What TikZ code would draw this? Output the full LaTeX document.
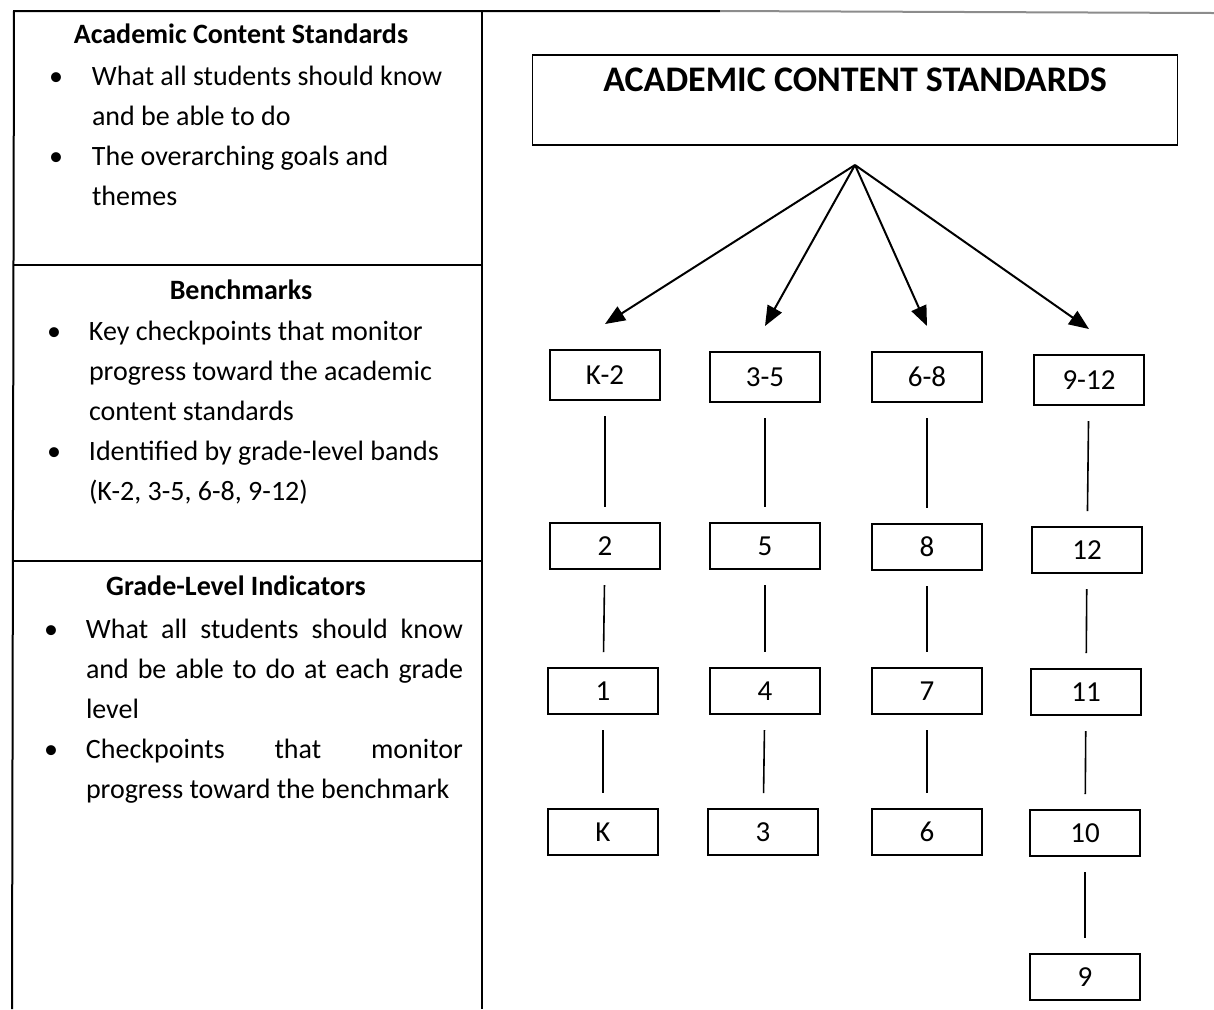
\documentclass[tikz,border=0pt]{standalone}
\usepackage{fontspec}
\setmainfont{Carlito}
\usepackage{array}
\usetikzlibrary{arrows.meta}
\usetikzlibrary{positioning}

\begin{document}
\begin{tikzpicture}[x=0.5pt, y=-0.5pt, outer sep=0pt]
  \newcommand{\boxminwidth}{55pt}
  \newcommand{\boxminheight}{23pt}
  \newcommand{\linkgap}{8pt}
  \newcommand{\tipgap}{13pt}

  \tikzstyle{grade}=[
    draw,
    rectangle,
    minimum width=\boxminwidth,
    minimum height=\boxminheight,
    line width=0.9pt,
    font=\fontsize{14.5}{16}\selectfont
  ]
  \tikzstyle{band}=[grade, minimum height=25pt]
  \tikzstyle{heading}=[anchor=base, inner sep=0pt, font=\bfseries\fontsize{14}{20}\selectfont]
  \tikzstyle{body}=[anchor=north west, inner sep=0pt, font=\fontsize{14}{20}\selectfont]
  \tikzstyle{rule} = [line width=1pt, draw=black]
  \tikzstyle{link} = [line width=0.8pt, draw=black, shorten <=\linkgap, shorten >=\linkgap]
  \tikzstyle{arrow} = [line width=1pt, -{Triangle[length=10pt,width=8pt]}, draw=black]

  \useasboundingbox (0,0) rectangle (1214,1009);

  % table on the left
  \draw[rule] (12,1009) -- (14,11) -- (720,11);
  \draw[rule, draw=black!45] (720,11) -- (1214,13);
  \draw[rule] (482,11) -- (482,1009);
  \draw[rule] (14,265) -- (482,265);
  \draw[rule] (12,561) -- (482,561);

  \node[heading] (acsHead) at (241,43) {Academic Content Standards};
  \node[body] (acsBody) at (49,57) {%
    \begin{tabular}{@{}p{21.5pt}@{}l@{}}
      \textbullet & What all students should know\\
                  & and be able to do\\
      \textbullet & The overarching goals and\\
                  & themes
    \end{tabular}};

  \node[heading] (benchHead) at (241,299) {Benchmarks};
  \node[body] (benchBody) at (47,312) {%
    \begin{tabular}{@{}p{21pt}@{}l@{}}
      \textbullet & Key checkpoints that monitor\\
                  & progress toward the academic\\
                  & content standards\\
      \textbullet & Identified by grade-level bands\\
                  & (K-2, 3-5, 6-8, 9-12)
    \end{tabular}};

  \node[heading] (gliHead) at (236,595) {Grade-Level Indicators};
  \node[body] (gliBody) at (44,610) {%
    \begin{tabular}{@{}p{21pt}@{}p{188.5pt}@{}}
      \textbullet & \makebox[\linewidth][s]{What all students should know}\\
                  & \makebox[\linewidth][s]{and be able to do at each grade}\\
                  & level\\
      \textbullet & \makebox[\linewidth][s]{Checkpoints that monitor}\\
                  & progress toward the benchmark
    \end{tabular}};

  % standards and grade bands
  \node[draw, line width=0.9pt, anchor=north, minimum width=322.5pt,
        text height=18pt, text depth=27pt, inner ysep=0pt,
        font=\bfseries\fontsize{18}{20}\selectfont] (title) at (855,55) {ACADEMIC CONTENT STANDARDS};
  \coordinate (fork) at ([yshift=-10pt]title.south);

  \node[band] (bandK2) at (605,375) {K-2};
  \node[band] (band35) at (765,377) {3-5};
  \node[band] (band68) at (927,377) {6-8};
  \node[band] (band912) at (1089,380) {9-12};

  \node[grade] (grade2) at (605,546) {2};
  \node[grade] (grade1) at (603,691) {1};
  \node[grade] (gradeK) at (603,832) {K};

  \node[grade] (grade5) at (765,546) {5};
  \node[grade] (grade4) at (765,691) {4};
  \node[grade] (grade3) at (763,832) {3};

  \node[grade] (grade8) at (927,547) {8};
  \node[grade] (grade7) at (927,691) {7};
  \node[grade] (grade6) at (927,832) {6};

  \node[grade] (grade12) at (1087,550) {12};
  \node[grade] (grade11) at (1086,692) {11};
  \node[grade] (grade10) at (1085,833) {10};
  \node[grade] (grade9) at (1085,977) {9};

  \draw[arrow] (fork) -- ([yshift=\tipgap]bandK2.north);
  \draw[arrow] (fork) -- ([yshift=\tipgap]band35.north);
  \draw[arrow] (fork) -- ([yshift=\tipgap]band68.north);
  \draw[arrow] (fork) -- ([yshift=\tipgap]band912.north);

  \draw[link] (bandK2) -- (grade2);
  \draw[link] (grade2) -- (grade1);
  \draw[link] (grade1) -- (gradeK);
  \draw[link] (band35) -- (grade5);
  \draw[link] (grade5) -- (grade4);
  \draw[link] (grade4) -- (grade3);
  \draw[link] (band68) -- (grade8);
  \draw[link] (grade8) -- (grade7);
  \draw[link] (grade7) -- (grade6);
  \draw[link] (band912) -- (grade12);
  \draw[link] (grade12) -- (grade11);
  \draw[link] (grade11) -- (grade10);
  \draw[link] (grade10) -- (grade9);

\end{tikzpicture}
\end{document}
